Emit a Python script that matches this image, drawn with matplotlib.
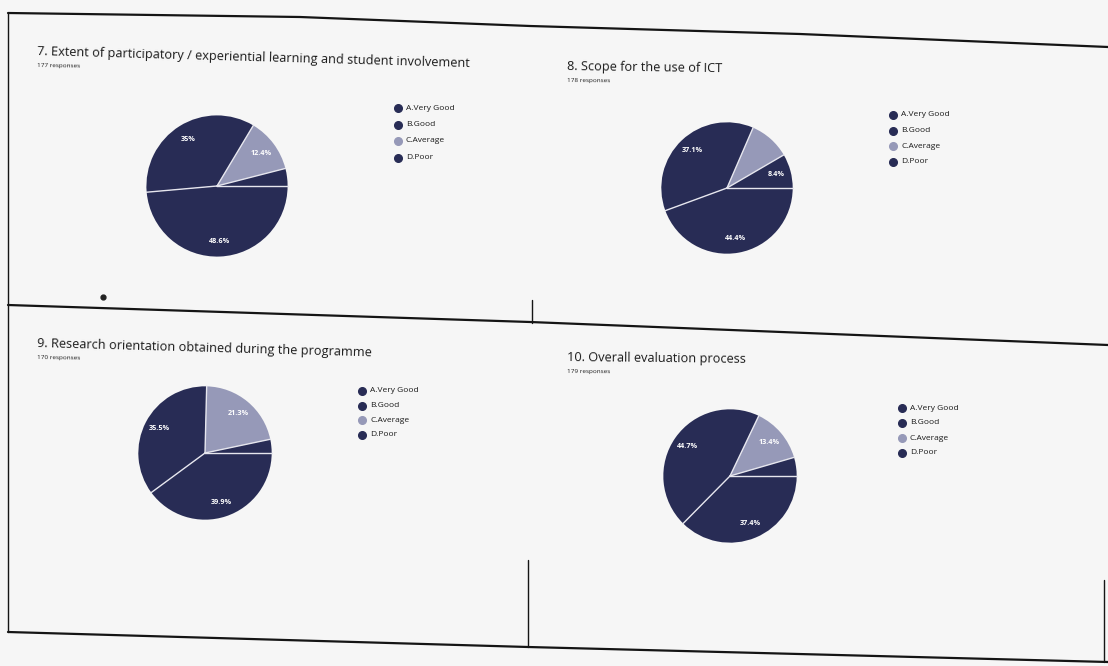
import matplotlib
matplotlib.use("Agg")
import matplotlib.pyplot as plt
import numpy as np
from matplotlib.lines import Line2D

W, H = 1108, 666

# --- data ---
categories = ["A.Very Good", "B.Good", "C.Average", "D.Poor"]

titles = [
    "7. Extent of participatory / experiential learning and student involvement",
    "8. Scope for the use of ICT",
    "9. Research orientation obtained during the programme",
    "10. Overall evaluation process",
]
responses = [177, 178, 170, 179]

vals7 = [48.6, 35.0, 12.4, 4.0]
vals8 = [44.4, 37.1, 10.1, 8.4]
vals9 = [39.9, 35.5, 21.3, 3.3]
vals10 = [37.4, 44.7, 13.4, 4.5]

lbl7 = ["48.6%", "35%", "12.4%", ""]
lbl8 = ["44.4%", "37.1%", "", "8.4%"]
lbl9 = ["39.9%", "35.5%", "21.3%", ""]
lbl10 = ["37.4%", "44.7%", "13.4%", ""]

# --- style ---
DARK = "#282c55"
LIGHT = "#9699b8"
colors = [DARK, DARK, LIGHT, DARK]
FONT = ["Open Sans", "DejaVu Sans"]

plt.rcParams["font.family"] = FONT

fig = plt.figure(figsize=(W / 100, H / 100), dpi=100, facecolor="#f6f6f6")

# background / page frame lines, drawn in pixel coords
bg = fig.add_axes([0, 0, 1, 1], zorder=0)
bg.set_xlim(0, W)
bg.set_ylim(H, 0)
bg.axis("off")
frame = [
    ([8, 300, 530, 800, 1108], [13, 17, 26, 34, 47], 1.6),
    ([8, 8], [13, 632], 1.0),
    ([8, 530, 1108], [305, 322, 345], 1.6),
    ([532, 532], [300, 323], 1.0),
    ([8, 528, 1108], [632, 647, 662], 1.6),
    ([528, 528], [560, 647], 1.0),
    ([1104, 1104], [580, 662], 1.0),
]
for xs, ys, lw in frame:
    bg.plot(xs, ys, color="#151515", lw=lw, solid_capstyle="round")
bg.plot([103], [297], "o", color="#222", ms=3.5)

# panel layout in pixels: pie centre, radius, legend x/y, title pos, title rotation
panels = [
    dict(vals=vals7, lbls=lbl7, c=(217, 186), r=72, leg=(398, 108), leg_dy=16.5,
         t=(37, 52), rot=-1.6),
    dict(vals=vals8, lbls=lbl8, c=(727, 188), r=67, leg=(893, 115), leg_dy=15.5,
         t=(567, 67), rot=-0.8),
    dict(vals=vals9, lbls=lbl9, c=(205, 453), r=68, leg=(362, 391), leg_dy=14.5,
         t=(37, 344), rot=-1.6),
    dict(vals=vals10, lbls=lbl10, c=(730, 476), r=68, leg=(902, 408), leg_dy=15.0,
         t=(567, 358), rot=-0.6),
]

for i, p in enumerate(panels):
    cx, cy = p["c"]
    r = p["r"]
    ax = fig.add_axes([(cx - r) / W, 1 - (cy + r) / H, 2 * r / W, 2 * r / H])
    ax.pie(p["vals"], colors=colors, startangle=0, counterclock=False,
           wedgeprops=dict(linewidth=0))
    ax.set_xlim(-1.02, 1.02)
    ax.set_ylim(-1.02, 1.02)
    ax.set_aspect("equal")
    ax.axis("off")

    vals = np.array(p["vals"])
    ends = np.cumsum(vals) / vals.sum() * 360
    starts = ends - vals / vals.sum() * 360

    # thin light separators between slices (no outer ring)
    for s in starts:
        a = np.deg2rad(-s)
        ax.plot([0, np.cos(a)], [0, np.sin(a)], color="#e6e6ee", lw=1.0)

    # slice labels at slice mid-angle
    for s, e, txt in zip(starts, ends, p["lbls"]):
        if not txt:
            continue
        mid = np.deg2rad(-(s + e) / 2)
        ax.text(0.78 * np.cos(mid), 0.78 * np.sin(mid), txt, color="white",
                fontsize=5.2, ha="center", va="center", fontweight="bold")

    # title + responses
    tx, ty = p["t"]
    fig.text(tx / W, 1 - ty / H, titles[i], fontsize=9.2, color="#1a1a1a",
             rotation=p["rot"], rotation_mode="anchor", ha="left", va="center")
    fig.text(tx / W, 1 - (ty + 14) / H, f"{responses[i]} responses", fontsize=4.6,
             color="#1a1a1a", rotation=p["rot"] / 2, rotation_mode="anchor",
             ha="left", va="center")

    # legend
    lx, ly = p["leg"]
    for k, name in enumerate(categories):
        yy = 1 - (ly + k * p["leg_dy"]) / H
        fig.add_artist(Line2D([lx / W], [yy], marker="o", ms=5.5, color=colors[k],
                              markeredgecolor=colors[k], transform=fig.transFigure))
        fig.text((lx + 8) / W, yy, name, fontsize=6.0, color="#1a1a1a",
                 ha="left", va="center")

fig.savefig("out.png", dpi=100, facecolor=fig.get_facecolor())
